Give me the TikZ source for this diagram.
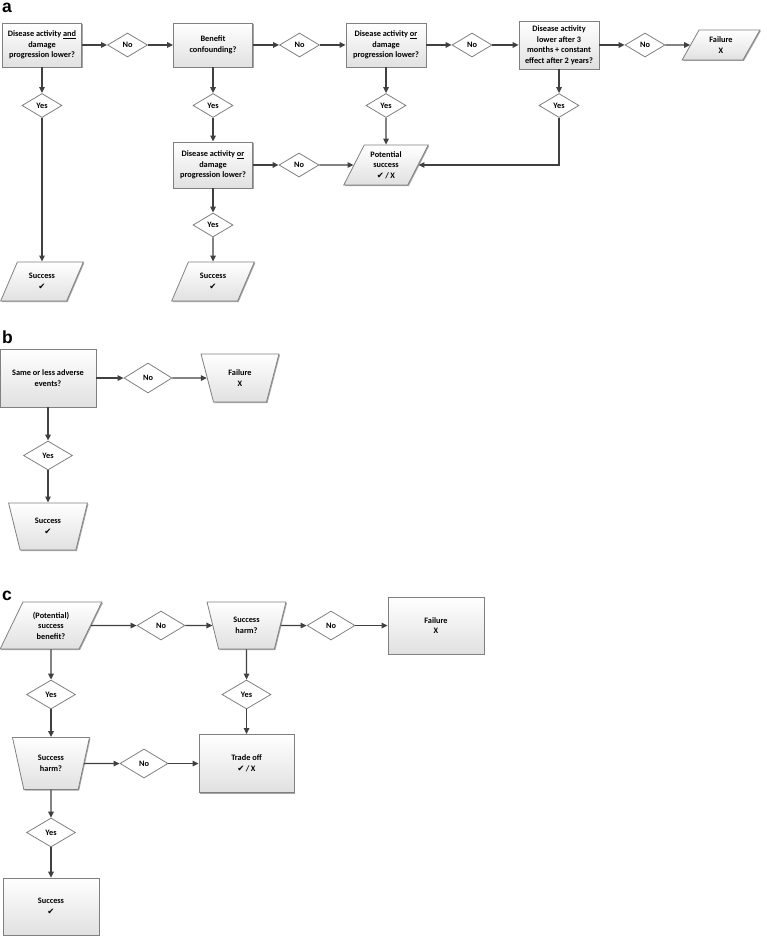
\documentclass[tikz,border=0pt]{standalone}
\usepackage{fontspec}
\setmainfont{Carlito}
\newfontfamily\headfont{Liberation Sans}
\newfontfamily\symfont{DejaVu Sans}
\usepackage{xcolor}
\usepackage{tikz}
\usetikzlibrary{arrows.meta,shapes.geometric,shadows}
\definecolor{lnc}{RGB}{64,64,64}
\definecolor{bdc}{RGB}{128,128,128}
\newcommand{\chk}{{\symfont\fontsize{8.5}{9}\selectfont ✔}}
\tikzset{
  base/.style={draw=bdc, line width=0.8pt, align=center, inner sep=1pt, font=\fontsize{8.3}{10.5}\selectfont\bfseries,
    top color=white, bottom color=black!12, drop shadow={shadow xshift=1pt, shadow yshift=-1pt, fill=black!70, opacity=0.5}},
  box/.style 2 args={base, rectangle, minimum width=#1pt, minimum height=#2pt},
  para/.style 2 args={base, trapezium, trapezium left angle=62, trapezium right angle=118, trapezium stretches=true, minimum width=#1pt, minimum height=#2pt},
  trap/.style 2 args={base, trapezium, trapezium angle=72, shape border rotate=180, trapezium stretches=true, minimum width=#1pt, minimum height=#2pt},
  dec/.style 2 args={diamond, draw=bdc, fill=white, line width=0.8pt, inner sep=0pt, font=\fontsize{8.3}{9}\selectfont\bfseries, minimum width=#1pt, minimum height=#2pt},
  flow/.style={-{Triangle[length=6pt, width=5.5pt]}, draw=lnc, line width=1.3pt},
  head/.style={anchor=base west, inner sep=0pt, font=\headfont\bfseries\fontsize{17.5}{18}\selectfont}
}
\begin{document}
\begin{tikzpicture}[x=1pt, y=-1pt]
    \useasboundingbox (0,0) rectangle (767,936);
    % Panel a
    \node[head] (lbla) at (2,13) {a};
    \node[box={79}{44}] (q1) at (42,45) {Disease activity \underline{and}\\damage\\progression lower?};
    \node[dec={40}{24}] (no1) at (127.5,45) {No};
    \node[box={79}{44}] (q2) at (213,45) {Benefit\\confounding?};
    \node[dec={40}{24}] (no2) at (299.5,45) {No};
    \node[box={80}{44}] (q3) at (386,45) {Disease activity \underline{or}\\damage\\progression lower?};
    \node[dec={40}{24}] (no3) at (472,45) {No};
    \node[box={80}{48}] (q4) at (559,45) {Disease activity\\lower after 3\\months + constant\\effect after 2 years?};
    \node[dec={40}{24}] (no4) at (645,45) {No};
    \node[para={78}{30}] (fail1) at (721,45) {Failure\\X};
    \node[dec={40}{24}] (yes1) at (42,105.5) {Yes};
    \node[dec={40}{24}] (yes2) at (213,105.5) {Yes};
    \node[dec={40}{24}] (yes3) at (386,105.5) {Yes};
    \node[dec={40}{24}] (yes4) at (559,105.5) {Yes};
    \node[box={79}{46}] (q5) at (213,165) {Disease activity \underline{or}\\damage\\progression lower?};
    \node[dec={40}{24}] (no5) at (299,165) {No};
    \node[para={85}{40}] (pot) at (386,165) {Potential\\success\\\chk\,/\,X};
    \node[dec={40}{24}] (yes5) at (213,225) {Yes};
    \node[para={83}{39}] (succ1) at (42,281.5) {Success\\\chk};
    \node[para={83}{39}] (succ2) at (213,281.5) {Success\\\chk};

    % Panel b
    \node[head] (lblb) at (2,343) {b};
    \node[box={96}{58}] (qb) at (48,378) {Same or less adverse\\events?};
    \node[dec={48}{30}] (nob) at (148,378) {No};
    \node[trap={78}{48}] (failb) at (240,378) {Failure\\X};
    \node[dec={49}{29}] (yesb) at (48,455.5) {Yes};
    \node[trap={79}{47}] (succb) at (48,526.5) {Success\\\chk};

    % Panel c
    \node[head] (lblc) at (2,600) {c};
    \node[para={102}{47}] (qc1) at (51,625.5) {(Potential)\\success\\benefit?};
    \node[dec={48}{29}] (noc1) at (161,625.5) {No};
    \node[trap={79}{47}] (qc2) at (246.5,625.5) {Success\\harm?};
    \node[dec={48}{29}] (noc2) at (331,625.5) {No};
    \node[box={96}{57}] (failc) at (436,625.5) {Failure\\X};
    \node[dec={49}{29}] (yesc1) at (51,694.5) {Yes};
    \node[dec={49}{29}] (yesc2) at (246.5,694.5) {Yes};
    \node[trap={77}{52}] (qc3) at (51,763.5) {Success\\harm?};
    \node[dec={48}{29}] (noc3) at (144,763.5) {No};
    \node[box={95}{58}] (trade) at (246.5,763.5) {Trade off\\\chk\,/\,X};
    \node[dec={49}{29}] (yesc3) at (51,832.5) {Yes};
    \node[box={96}{57}] (succc) at (51,906.5) {Success\\\chk};

    % Edges a
    \draw[flow] (q1) -- (no1);
    \draw[flow] (no1) -- (q2);
    \draw[flow] (q2) -- (no2);
    \draw[flow] (no2) -- (q3);
    \draw[flow] (q3) -- (no3);
    \draw[flow] (no3) -- (q4);
    \draw[flow] (q4) -- (no4);
    \draw[flow] (no4) -- (fail1);
    \draw[flow] (q1) -- (yes1);
    \draw[flow] (yes1) -- (succ1);
    \draw[flow] (q2) -- (yes2);
    \draw[flow] (yes2) -- (q5);
    \draw[flow] (q3) -- (yes3);
    \draw[flow] (yes3) -- (pot);
    \draw[flow] (q4) -- (yes4);
    \draw[flow] (yes4) |- (pot);
    \draw[flow] (q5) -- (no5);
    \draw[flow] (no5) -- (pot);
    \draw[flow] (q5) -- (yes5);
    \draw[flow] (yes5) -- (succ2);

    % Edges b
    \draw[flow] (qb) -- (nob);
    \draw[flow] (nob) -- (failb);
    \draw[flow] (qb) -- (yesb);
    \draw[flow] (yesb) -- (succb);

    % Edges c
    \draw[flow] (qc1) -- (noc1);
    \draw[flow] (noc1) -- (qc2);
    \draw[flow] (qc2) -- (noc2);
    \draw[flow] (noc2) -- (failc);
    \draw[flow] (qc1) -- (yesc1);
    \draw[flow] (yesc1) -- (qc3);
    \draw[flow] (qc2) -- (yesc2);
    \draw[flow] (yesc2) -- (trade);
    \draw[flow] (qc3) -- (noc3);
    \draw[flow] (noc3) -- (trade);
    \draw[flow] (qc3) -- (yesc3);
    \draw[flow] (yesc3) -- (succc);
\end{tikzpicture}
\end{document}
